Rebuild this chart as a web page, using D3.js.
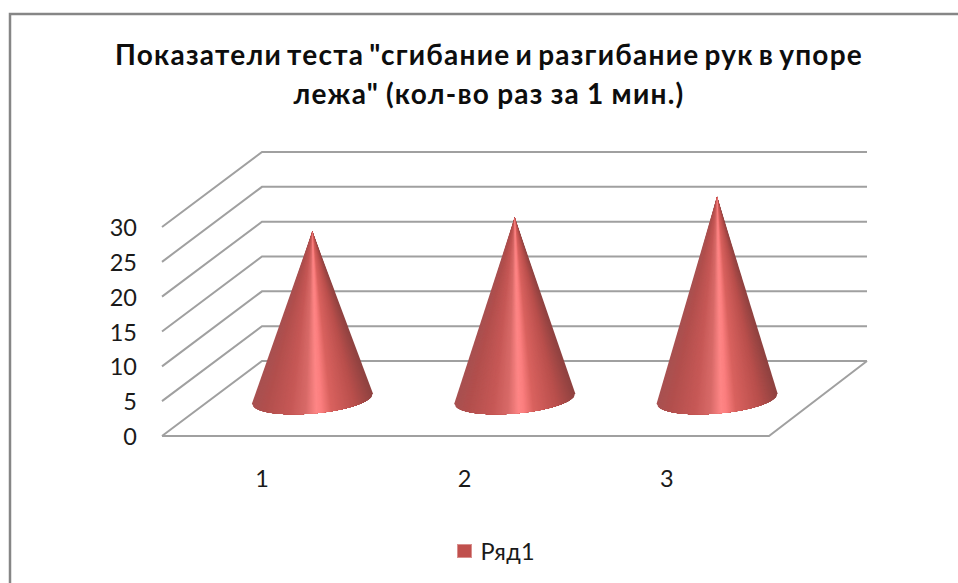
<!DOCTYPE html>
<html lang="ru">
<head>
<meta charset="utf-8">
<script src="https://cdn.jsdelivr.net/npm/d3@7/dist/d3.min.js"></script>
<style>
  html, body { margin: 0; padding: 0; background: #fff; }
  svg { display: block; }
  text { font-family: "Lato", "Open Sans", sans-serif; fill: #1a1a1a; }
</style>
</head>
<body>
<svg id="chart" width="958" height="583"></svg>
<script>
// Chart content
const titleLines = ['Показатели теста "сгибание и разгибание рук в упоре', 'лежа" (кол-во раз за 1 мин.)'];
const categories = ["1", "2", "3"];
const seriesName = "Ряд1";
const seriesValues = [24, 26, 29];
const valueTicks = [0, 5, 10, 15, 20, 25, 30];

const svg = d3.select("#chart");
const gridColor = "#a0a0a0";

// Outer frame: only the top and left edges fall inside the page
svg.append("path")
  .attr("d", "M10,583V14H958")
  .attr("fill", "none").attr("stroke", "#868686").attr("stroke-width", 2.5);

// Title
svg.append("g").selectAll("text").data(titleLines).join("text")
  .attr("x", 489)
  .attr("y", (d, i) => 65 + i * 38.5)
  .attr("text-anchor", "middle")
  .attr("font-size", 28)
  .attr("font-weight", 700)
  .attr("letter-spacing", 1.25)
  .attr("word-spacing", (d, i) => i === 0 ? -3 : -1)
  .style("fill", "#0d0d0d")
  .text(d => d);

// Scales for the front plane of the 3D box, plus the oblique depth offset
const x = d3.scaleBand().domain(categories).range([162, 769]);
const y = d3.scaleLinear().domain([0, 30]).range([436, 227]);
const depth = { dx: 100, dy: -75 };

// Gridlines: side wall diagonal followed by back wall horizontal
const grid = svg.append("g").attr("fill", "none").attr("stroke", gridColor).attr("stroke-width", 2);
grid.selectAll("path").data(valueTicks).join("path")
  .attr("d", v => d3.line()([
    [x.range()[0], y(v)],
    [x.range()[0] + depth.dx, y(v) + depth.dy],
    [x.range()[1] + depth.dx - 2, y(v) + depth.dy]
  ]));

// Floor outline: front edge and right edge
grid.append("path").attr("d", d3.line()([
  [x.range()[0], y(0)],
  [x.range()[1], y(0)],
  [x.range()[1] + depth.dx - 2, y(0) + depth.dy]
]));

// Value axis labels
svg.append("g").selectAll("text").data(valueTicks).join("text")
  .attr("x", 137).attr("y", v => y(v) + 9)
  .attr("text-anchor", "end").attr("font-size", 23.5)
  .text(v => v);

// Category labels
svg.append("g").selectAll("text").data(categories).join("text")
  .attr("x", c => x(c) + x.bandwidth() / 2 - 1).attr("y", 487)
  .attr("text-anchor", "middle").attr("font-size", 23.5)
  .text(c => c);

// Horizontal shading across a cone, from shadowed rim to central highlight
const highlightAt = 0.52;
const shade = d3.scaleLinear()
  .domain([0, 0.1, 0.3, 0.43, highlightAt, 0.57, 0.65, 0.85, 1])
  .range(["#a85050", "#b24f4d", "#c65856", "#d86a68", "#ff8787", "#fb7e7e", "#d9625f", "#b94f4c", "#8f4240"]);

// Cones: the base sits at mid depth and is a slightly tilted ellipse
const tilt = -5 * Math.PI / 180;
const coneGroups = svg.append("g").selectAll("g").data(seriesValues).join("g");
coneGroups.each(function (value, i) {
  const cx = x(categories[i]) + x.bandwidth() / 2 + depth.dx / 2 - 0.8;
  const cy = y(0) + depth.dy / 2;
  const apex = [cx, y(value) + depth.dy / 2];
  const rx = x.bandwidth() * 0.3, ry = 15;
  // Point on the front half of the rim, u running 0..1 from left to right
  const rim = u => {
    const t = Math.PI - Math.acos(1 - 2 * u);
    const px = rx * Math.cos(t), py = ry * Math.sin(t);
    return [cx + px * Math.cos(tilt) - py * Math.sin(tilt),
            cy + px * Math.sin(tilt) + py * Math.cos(tilt)];
  };
  // Facets are painted from both rims inwards, each covering everything up to
  // the highlight, so neighbours share no seam and the tip stays bright
  const steps = d3.range(0, 121).map(k => k / 120);
  const order = steps.slice().sort((a, b) => d3.descending(Math.abs(a - highlightAt), Math.abs(b - highlightAt)));
  d3.select(this).selectAll("path").data(order).join("path")
    .attr("d", u => {
      const span = d3.range(0, 31).map(k => rim(u + (highlightAt - u) * k / 30));
      return d3.line()([apex, ...span]) + "Z";
    })
    .attr("fill", u => shade(u));
});

// Legend
svg.append("rect")
  .attr("x", 457.5).attr("y", 544.5).attr("width", 14).attr("height", 13)
  .attr("fill", "#c0504d").attr("stroke", "#d98f8d").attr("stroke-width", 1);
svg.append("text").attr("x", 480.5).attr("y", 560).attr("font-size", 23.5).attr("letter-spacing", 0.3).text(seriesName);
</script>
</body>
</html>
